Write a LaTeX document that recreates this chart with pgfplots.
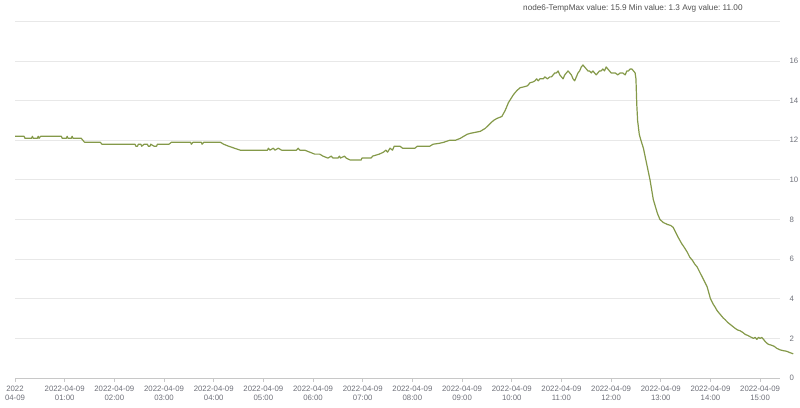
\documentclass[border=0pt]{standalone}
\usepackage{fontspec}
\setmainfont{Liberation Sans}
\usepackage{pgfplots}
\pgfplotsset{compat=1.18}
\definecolor{templine}{RGB}{132,153,73}
\definecolor{gridgray}{RGB}{232,232,232}
\definecolor{axisgray}{RGB}{200,200,200}
\definecolor{labelgray}{RGB}{110,112,121}
\definecolor{legendgray}{RGB}{80,80,80}
\begin{document}
\begin{tikzpicture}[x=1pt,y=1pt]
\begin{axis}[
    at={(0,0)}, anchor=south west,
    scale only axis,
    width=765pt, height=356.6pt,
    xmin=0, xmax=924,
    ymin=0, ymax=18,
    axis x line*=bottom,
    axis y line*=right,
    x axis line style={draw=axisgray, line width=0.8pt, -},
    y axis line style={draw=none},
    xtick={0,60,...,900},
    xticklabels={{2022\\04-09},{2022-04-09\\01:00},{2022-04-09\\02:00},{2022-04-09\\03:00},
      {2022-04-09\\04:00},{2022-04-09\\05:00},{2022-04-09\\06:00},{2022-04-09\\07:00},
      {2022-04-09\\08:00},{2022-04-09\\09:00},{2022-04-09\\10:00},{2022-04-09\\11:00},
      {2022-04-09\\12:00},{2022-04-09\\13:00},{2022-04-09\\14:00},{2022-04-09\\15:00}},
    xticklabel style={font=\fontsize{7.8}{8.6}\selectfont, text=labelgray, align=center, yshift=-1pt},
    x tick style={draw=axisgray, line width=0.8pt},
    tick align=outside,
    major tick length=4pt,
    ytick={0,2,...,18},
    yticklabels={0,2,4,6,8,10,12,14,16,{}},
    yticklabel style={font=\fontsize{7.8}{8.6}\selectfont, text=labelgray, xshift=2pt},
    y tick style={draw=none},
    ymajorgrids,
    grid style={draw=gridgray, line width=0.8pt},
    clip=false,
]
\addplot[templine, line width=1.2pt, line join=round, mark=none] coordinates {
(0,12.2) (11,12.2) (12,12.1) (20,12.1) (21,12.2) (22,12.1) (27,12.1) (28,12.2) (29,12.1) (31,12.2)
(56,12.2) (57,12.1) (62,12.1) (63,12.2) (64,12.1) (68,12.1) (69,12.2) (70,12.1) (80,12.1) (82,12.0)
(84,11.9) (103,11.9) (105,11.8) (145,11.8) (146,11.7) (148,11.7) (149,11.8) (152,11.8) (153,11.7)
(156,11.8) (160,11.8) (161,11.7) (163,11.7) (164,11.8) (168,11.7) (171,11.7) (172,11.8) (186,11.8)
(189,11.9) (212,11.9) (213,11.8) (215,11.9) (225,11.9) (226,11.8) (228,11.9) (248,11.9) (252,11.8)
(258,11.7) (265,11.6) (272,11.5) (305,11.5) (306,11.6) (308,11.5) (312,11.6) (314,11.5) (318,11.6)
(322,11.5) (340,11.5) (342,11.6) (344,11.5) (350,11.5) (356,11.4) (362,11.3) (368,11.3) (372,11.2)
(378,11.1) (382,11.2) (384,11.1) (390,11.1) (392,11.2) (393,11.1) (398,11.2) (400,11.1) (405,11.0)
(418,11.0) (419,11.1) (430,11.1) (432,11.2) (440,11.3) (445,11.4) (448,11.5) (450,11.4) (453,11.6)
(456,11.5) (458,11.7) (465,11.7) (468,11.6) (483,11.6) (486,11.7) (501,11.7) (505,11.8) (513,11.85)
(518,11.9) (525,12.0) (532,12.0) (538,12.1) (542,12.2) (546,12.3) (550,12.35) (556,12.4) (562,12.45)
(568,12.6) (574,12.85) (578,13.0) (582,13.1) (588,13.2) (592,13.5) (596,13.9) (602,14.3) (606,14.5)
(610,14.65) (615,14.7) (619,14.75) (622,14.9) (626,14.95) (628,15.0) (630,15.1) (632,15.0) (634,15.1)
(638,15.1) (640,15.2) (643,15.1) (646,15.2) (648,15.2) (650,15.3) (652,15.4) (654,15.4) (656,15.5)
(658,15.3) (660,15.2) (662,15.1) (664,15.3) (666,15.4) (668,15.5) (670,15.4) (672,15.3) (674,15.1)
(676,15.0) (678,15.2) (680,15.4) (682,15.5) (684,15.7) (686,15.8) (688,15.7) (690,15.6) (692,15.5)
(694,15.5) (696,15.4) (698,15.5) (700,15.4) (702,15.3) (704,15.4) (706,15.5) (708,15.5) (710,15.6)
(712,15.5) (714,15.7) (716,15.6) (718,15.5) (720,15.4) (722,15.4) (725,15.4) (728,15.3) (731,15.4)
(734,15.4) (737,15.3) (739,15.5) (741,15.5) (743,15.6) (745,15.6) (747,15.5) (749,15.4) (750,15.1)
(751,13.8) (752,13.0) (754,12.3) (756,12.0) (759,11.6) (762,11.0) (765,10.4) (767,10.0) (771,9.0)
(776,8.3) (779,8.0) (783,7.85) (788,7.75) (792,7.7) (795,7.6) (798,7.35) (801,7.1) (805,6.8)
(809,6.55) (812,6.35) (815,6.1) (818,5.95) (821,5.75) (824,5.6) (827,5.35) (830,5.1) (833,4.85)
(836,4.6) (838,4.3) (840,4.0) (843,3.75) (846,3.55) (848,3.4) (851,3.25) (855,3.05) (858,2.93)
(861,2.8) (864,2.7) (867,2.6) (870,2.5) (873,2.42) (876,2.38) (879,2.3) (882,2.2) (885,2.15)
(888,2.08) (892,2.0) (894,2.05) (896,1.95) (898,2.05) (900,2.0) (902,2.05) (904,1.95) (907,1.8)
(910,1.7) (914,1.65) (917,1.6) (920,1.5) (924,1.42) (928,1.38) (932,1.35) (936,1.28) (940,1.22)
};
\end{axis}
\node[anchor=west, inner sep=0pt, font=\fontsize{8.2}{9}\selectfont, text=legendgray]
  at (508,369.5) {node6-TempMax value:\ 15.9 Min value:\ 1.3 Avg value:\ 11.00};
\pgfresetboundingbox
\path[use as bounding box] (-15,-29) rectangle (785,378);
\end{tikzpicture}
\end{document}
